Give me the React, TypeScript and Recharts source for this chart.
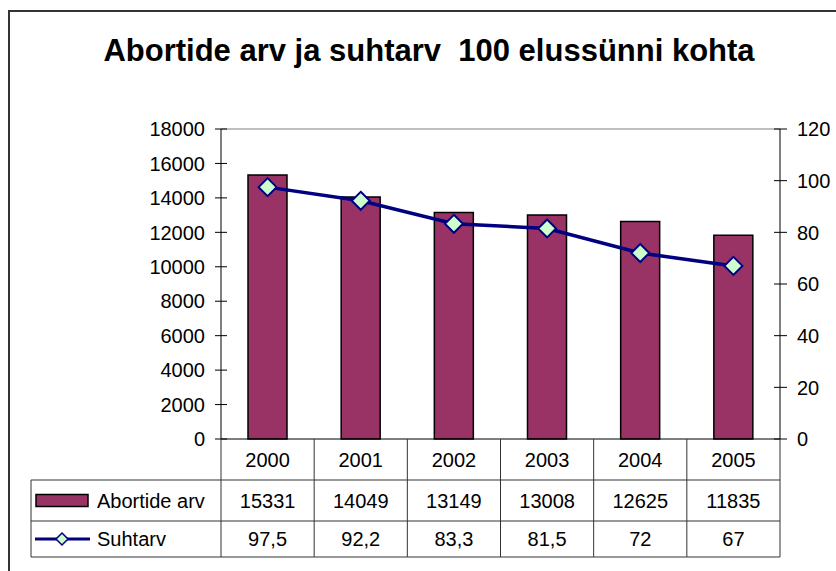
import React from 'react';
import { ComposedChart, Bar, Line, XAxis, YAxis, ReferenceLine } from 'recharts';

const years = ['2000', '2001', '2002', '2003', '2004', '2005'];
const abortions = [15331, 14049, 13149, 13008, 12625, 11835];
const ratio = [97.5, 92.2, 83.3, 81.5, 72, 67];
const leftTicks = [0, 2000, 4000, 6000, 8000, 10000, 12000, 14000, 16000, 18000];
const rightTicks = [0, 20, 40, 60, 80, 100, 120];
const seriesNames = ['Abortide arv', 'Suhtarv'];
const title = 'Abortide arv ja suhtarv  100 elussünni kohta';

const data = years.map((y, i) => ({ year: y, abortions: abortions[i], ratio: ratio[i] }));

const W = 836;
const H = 571;
const PLOT_LEFT = 221;
const PLOT_RIGHT = 780;
const PLOT_TOP = 129;
const PLOT_BOTTOM = 439;
const ROW1 = 480;
const ROW2 = 521;
const TABLE_BOTTOM = 557;
const TABLE_LEFT = 31;
const FONT = '"Liberation Sans", Arial, sans-serif';
const FS = 20;
const BAR_COLOR = '#993366';
const LINE_COLOR = '#000080';
const MARKER_FILL = '#CCFFCC';
const GRID = '#333333';

const fmt = (v: number) => String(v).replace('.', ',');

const diamond = (cx: number, cy: number, r: number) =>
  `M${cx},${cy - r} L${cx + r},${cy} L${cx},${cy + r} L${cx - r},${cy} Z`;

const LeftTick = (props: any) => {
  const { y, payload } = props;
  return (
    <g>
      <line x1={PLOT_LEFT - 6} x2={PLOT_LEFT + 6} y1={y} y2={y} stroke="#000" strokeWidth={1} />
      <text x={PLOT_LEFT - 16} y={y} dy="0.36em" textAnchor="end" fontFamily={FONT} fontSize={FS} fill="#000">
        {payload.value}
      </text>
    </g>
  );
};

const RightTick = (props: any) => {
  const { y, payload } = props;
  return (
    <g>
      <line x1={PLOT_RIGHT - 6} x2={PLOT_RIGHT + 7} y1={y} y2={y} stroke="#000" strokeWidth={1} />
      <text x={PLOT_RIGHT + 17} y={y} dy="0.36em" textAnchor="start" fontFamily={FONT} fontSize={FS} fill="#000">
        {payload.value}
      </text>
    </g>
  );
};

const TableTick = (props: any) => {
  const { x, payload, index } = props;
  const bw = (PLOT_RIGHT - PLOT_LEFT) / years.length;
  const l = x - bw / 2;
  const r = x + bw / 2;
  const row0c = (PLOT_BOTTOM + ROW1) / 2;
  const row1c = (ROW1 + ROW2) / 2;
  const row2c = (ROW2 + TABLE_BOTTOM) / 2;
  return (
    <g>
      <line x1={r} x2={r} y1={PLOT_BOTTOM} y2={TABLE_BOTTOM} stroke={GRID} strokeWidth={1} />
      <line x1={l} x2={r} y1={ROW1} y2={ROW1} stroke={GRID} strokeWidth={1} />
      <line x1={l} x2={r} y1={ROW2} y2={ROW2} stroke={GRID} strokeWidth={1} />
      <line x1={l} x2={r} y1={TABLE_BOTTOM} y2={TABLE_BOTTOM} stroke={GRID} strokeWidth={1} />
      <text x={x} y={row0c} dy="0.36em" textAnchor="middle" fontFamily={FONT} fontSize={FS} fill="#000">
        {payload.value}
      </text>
      <text x={x} y={row1c} dy="0.36em" textAnchor="middle" fontFamily={FONT} fontSize={FS} fill="#000">
        {abortions[index]}
      </text>
      <text x={x} y={row2c} dy="0.36em" textAnchor="middle" fontFamily={FONT} fontSize={FS} fill="#000">
        {fmt(ratio[index])}
      </text>
      {index === 0 && (
        <g>
          <line x1={l} x2={l} y1={PLOT_BOTTOM} y2={TABLE_BOTTOM} stroke={GRID} strokeWidth={1} />
          <line x1={TABLE_LEFT} x2={l} y1={ROW1} y2={ROW1} stroke={GRID} strokeWidth={1} />
          <line x1={TABLE_LEFT} x2={l} y1={ROW2} y2={ROW2} stroke={GRID} strokeWidth={1} />
          <line x1={TABLE_LEFT} x2={l} y1={TABLE_BOTTOM} y2={TABLE_BOTTOM} stroke={GRID} strokeWidth={1} />
          <line x1={TABLE_LEFT} x2={TABLE_LEFT} y1={ROW1} y2={TABLE_BOTTOM} stroke={GRID} strokeWidth={1} />
          <rect x={36} y={row1c - 6} width={52} height={12} fill={BAR_COLOR} stroke="#000" strokeWidth={1.5} />
          <text x={97} y={row1c} dy="0.36em" textAnchor="start" fontFamily={FONT} fontSize={FS} fill="#000">
            {seriesNames[0]}
          </text>
          <line x1={35} x2={90} y1={row2c} y2={row2c} stroke={LINE_COLOR} strokeWidth={3} />
          <path d={diamond(62, row2c, 6)} fill={MARKER_FILL} stroke={LINE_COLOR} strokeWidth={1.5} />
          <text x={97} y={row2c} dy="0.36em" textAnchor="start" fontFamily={FONT} fontSize={FS} fill="#000">
            {seriesNames[1]}
          </text>
        </g>
      )}
    </g>
  );
};

const DiamondDot = (props: any) => {
  const { cx, cy, index } = props;
  if (cx == null || cy == null) return <g key={`d-${index}`} />;
  return (
    <path
      key={`d-${index}`}
      d={diamond(cx, cy, 9)}
      fill={MARKER_FILL}
      stroke={LINE_COLOR}
      strokeWidth={2}
    />
  );
};

export default function App() {
  return (
    <div style={{ position: 'absolute', left: 0, top: 0, width: W, height: H, background: '#fff' }}>
      <svg width={W} height={H} style={{ position: 'absolute', left: 0, top: 0 }}>
        <rect x={9} y={11} width={W + 20} height={H + 20} fill="#fff" stroke="#333" strokeWidth={2} />
        <text
          x={429}
          y={61}
          textAnchor="middle"
          fontFamily={FONT}
          fontWeight="bold"
          fontSize={31}
          fill="#000"
          style={{ whiteSpace: 'pre' }}
        >
          {title}
        </text>
      </svg>
      <div style={{ position: 'absolute', left: 0, top: 0 }}>
        <ComposedChart
          width={W}
          height={H}
          data={data}
          margin={{ top: PLOT_TOP, right: 0, left: 0, bottom: H - PLOT_BOTTOM - (TABLE_BOTTOM - PLOT_BOTTOM) }}
        >
          <XAxis
            dataKey="year"
            xAxisId="x"
            height={TABLE_BOTTOM - PLOT_BOTTOM}
            axisLine={{ stroke: '#000', strokeWidth: 1 }}
            tickLine={false}
            tick={<TableTick />}
            interval={0}
          />
          <YAxis
            yAxisId="left"
            orientation="left"
            width={PLOT_LEFT}
            domain={[0, 18000]}
            ticks={leftTicks}
            interval={0}
            axisLine={{ stroke: '#000', strokeWidth: 1 }}
            tickLine={false}
            tick={<LeftTick />}
          />
          <YAxis
            yAxisId="right"
            orientation="right"
            width={W - PLOT_RIGHT}
            domain={[0, 120]}
            ticks={rightTicks}
            interval={0}
            axisLine={{ stroke: '#000', strokeWidth: 1 }}
            tickLine={false}
            tick={<RightTick />}
          />
          <ReferenceLine yAxisId="left" xAxisId="x" y={18000} stroke="#808080" strokeWidth={1} />
          <Bar
            xAxisId="x"
            yAxisId="left"
            dataKey="abortions"
            barSize={39}
            fill={BAR_COLOR}
            stroke="#000"
            strokeWidth={1.5}
            isAnimationActive={false}
          />
          <Line
            xAxisId="x"
            yAxisId="right"
            dataKey="ratio"
            type="linear"
            stroke={LINE_COLOR}
            strokeWidth={3.5}
            dot={<DiamondDot />}
            activeDot={false}
            isAnimationActive={false}
          />
        </ComposedChart>
      </div>
    </div>
  );
}
